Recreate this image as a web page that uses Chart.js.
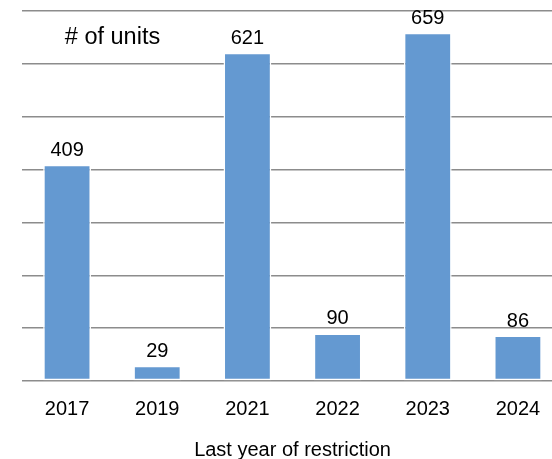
<!DOCTYPE html>
<html>
<head>
<meta charset="utf-8">
<script src="https://cdn.jsdelivr.net/npm/chart.js@4/dist/chart.umd.min.js"></script>
<style>
  html, body { margin: 0; padding: 0; background: #fff; overflow: hidden; }
  #wrap { width: 563px; height: 459px; }
</style>
</head>
<body>
<div id="wrap"><canvas id="units"></canvas></div>
<script>
const years = ["2017", "2019", "2021", "2022", "2023", "2024"];
const unitCounts = [409, 29, 621, 90, 659, 86];
const yTicks = [0, 100, 200, 300, 400, 500, 600, 700];

const FONT = "'Liberation Sans', Arial, sans-serif";

// value above each bar + the "# of units" caption
const labelsPlugin = {
  id: "labels",
  afterDatasetsDraw(chart) {
    const ctx = chart.ctx;
    const meta = chart.getDatasetMeta(0);
    ctx.save();
    ctx.fillStyle = "#000";
    ctx.font = "20px " + FONT;
    ctx.textAlign = "center";
    ctx.textBaseline = "alphabetic";
    meta.data.forEach((bar, i) => {
      ctx.fillText(String(unitCounts[i]), bar.x, bar.y - 9);
    });
    ctx.font = "23.5px " + FONT;
    ctx.fillText("# of units", 112.5, 44);
    ctx.restore();
  }
};

const ctx = document.getElementById("units").getContext("2d");
new Chart(ctx, {
  type: "bar",
  data: {
    labels: years,
    datasets: [{
      data: unitCounts,
      backgroundColor: "#6499d1",
      borderColor: "#ffffff",
      borderWidth: 1.5,
      borderSkipped: false,
      categoryPercentage: 1,
      barPercentage: 0.53
    }]
  },
  options: {
    responsive: true,
    maintainAspectRatio: false,
    animation: false,
    layout: { padding: { left: 22, right: 0, top: 11, bottom: 0 } },
    plugins: { legend: { display: false }, tooltip: { enabled: false } },
    scales: {
      x: {
        grid: { display: false, drawTicks: false },
        border: { display: false },
        ticks: { color: "#000", font: { family: FONT, size: 20 }, padding: 16, maxRotation: 0 },
        title: {
          display: true,
          text: "Last year of restriction",
          color: "#000",
          font: { family: FONT, size: 20, lineHeight: 0.85 },
          padding: { top: 0, bottom: 0 }
        },
        afterFit(scale) { scale.height = 78; }
      },
      y: {
        min: yTicks[0],
        max: yTicks[yTicks.length - 1],
        afterBuildTicks(scale) { scale.ticks = yTicks.map(v => ({ value: v })); },
        ticks: { display: false },
        grid: { color: "#8c8c8c", lineWidth: 1.5, drawTicks: false },
        border: { display: false },
        afterFit(scale) { scale.width = 0; }
      }
    }
  },
  plugins: [labelsPlugin]
});
</script>
</body>
</html>
